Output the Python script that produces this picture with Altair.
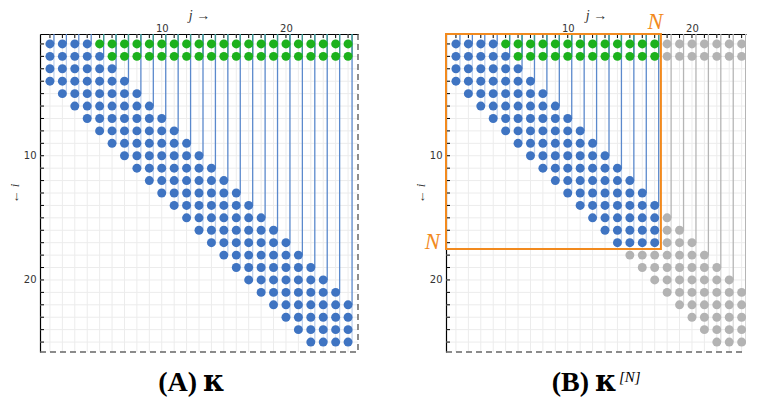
import altair as alt
import pandas as pd

# ---------------- data ----------------
SIZE = 25          # matrix is 25 x 25 (i = row, j = column)
N_CUT = 17         # truncation order N in panel (B)
ROWS = list(range(1, SIZE + 1))
COLS = list(range(1, SIZE + 1))
# first non-zero column of every row
ROW_FIRST = [1, 1, 1, 1, 2, 3, 4, 5, 6, 7, 8, 9, 10, 11, 12, 13, 14, 15, 16, 17, 18, 19, 20, 21, 22]
# last column of the banded (blue) part of every row
ROW_LAST_BLUE = [4, 5, 6, 7, 8, 9, 10, 11, 12, 13, 14, 15, 16, 17, 18, 19, 20, 21, 22, 23, 24, 25, 25, 25, 25]
# last non-zero column of every row (rows 1-2 are full: green part)
ROW_LAST = [25, 25, 6, 7, 8, 9, 10, 11, 12, 13, 14, 15, 16, 17, 18, 19, 20, 21, 22, 23, 24, 25, 25, 25, 25]
TICK_LABELS = [10, 20]
X_TITLE = "j →"
Y_TITLE = "← i"
CAPTION_TAGS = ["(A)", "(B)"]
KAPPA = "κ"
SUPERSCRIPT = "[N]"
N_LABEL = "N"

# ---------------- styling ----------------
TONES = ["blue", "green", "gray", "dark", "light", "teal", "gdark", "glight"]
TONE_COLORS = ["#3f74c2", "#1cb11c", "#b3b3b3", "#5b89cc", "#c3d4ee", "#3f9a8c", "#b5b5b5", "#dcdcdc"]
ORANGE = "#f28a1e"
GRID = "#ececec"
UNIT = 12.42
LO = 0.2
HI_A = 25.8
HI_B = 24.35
W_A = round((HI_A - LO) * UNIT)
W_B = round((HI_B - LO) * UNIT)
H = round((HI_A - LO) * UNIT)
SPACING = 55
CAP_Y = 357

# ---------------- tables ----------------
dot_rows = []
for i in ROWS:
    for j in range(ROW_FIRST[i - 1], ROW_LAST[i - 1] + 1):
        tone = "green" if j > ROW_LAST_BLUE[i - 1] else "blue"
        tone_b = "gray" if (i > N_CUT or j > N_CUT) else tone
        dot_rows.append({"i": i, "j": j, "tone": tone, "tone_b": tone_b})
dots = pd.DataFrame(dot_rows)


def column_segments(cut=None):
    top_rows, band_rows = [], []
    for j in COLS:
        band = [i for i in ROWS if ROW_FIRST[i - 1] <= j <= ROW_LAST_BLUE[i - 1]]
        green = [i for i in ROWS if ROW_LAST_BLUE[i - 1] < j <= ROW_LAST[i - 1]]
        first, last = min(band), max(band)
        if cut is not None and j > cut:
            top_rows.append({"j": j, "end": first, "tone": "gdark"})
            band_rows.append({"j": j, "start": first, "end": last, "tone": "glight"})
            continue
        if cut is not None:
            last = min(last, cut)
        top_rows.append({"j": j, "end": first, "tone": "dark"})
        band_rows.append({"j": j, "start": first, "end": last, "tone": "light"})
        if green:
            top_rows.append({"j": j, "end": max(green), "tone": "teal"})
    return pd.DataFrame(top_rows), pd.DataFrame(band_rows)


one = pd.DataFrame({"k": [0]})
color_scale = alt.Scale(domain=TONES, range=TONE_COLORS)


def build_panel(hi, width, tone_field, tag, cap_x, cut=None):
    xs = alt.Scale(domain=[LO, hi], nice=False, zero=False)
    ys = alt.Scale(domain=[LO, HI_A], nice=False, zero=False, reverse=True)
    ax_x = alt.Axis(
        orient="top", values=TICK_LABELS, ticks=False, grid=False, domainColor="black",
        domainWidth=1.2, labelFont="DejaVu Sans", labelFontSize=10, labelColor="#333",
        labelPadding=1, title=X_TITLE, titleFont="Liberation Serif", titleFontStyle="italic",
        titleFontWeight="normal", titleFontSize=14, titlePadding=1, titleColor="#333", zindex=0)
    ax_y = alt.Axis(
        orient="left", values=TICK_LABELS, ticks=False, grid=False, domainColor="black",
        domainWidth=1.2, labelFont="DejaVu Sans", labelFontSize=10, labelColor="#333",
        labelPadding=4, title=Y_TITLE, titleFont="Liberation Serif", titleFontStyle="italic",
        titleFontWeight="normal", titleFontSize=13, titlePadding=2, titleColor="#333", zindex=0)
    X = lambda f: alt.X(f, scale=xs, axis=ax_x)
    Y = lambda f: alt.Y(f, scale=ys, axis=ax_y)
    tops, bands = column_segments(cut)
    line_color = alt.Color("tone:N", scale=color_scale, legend=None)

    grid_x = alt.Chart(pd.DataFrame({"j": COLS})).mark_rule(color=GRID, strokeWidth=1, clip=True).encode(
        x=X("j:Q"), y=alt.value(0), y2=alt.value(H))
    grid_y = alt.Chart(pd.DataFrame({"i": ROWS})).mark_rule(color=GRID, strokeWidth=1).encode(
        y=Y("i:Q"), x=alt.value(0), x2=alt.value(width))

    band_lines = alt.Chart(bands).mark_rule(strokeWidth=1.3, clip=True).encode(
        x=X("j:Q"), xOffset=alt.value(4), y=Y("start:Q"), y2="end:Q", color=line_color)
    top_lines = alt.Chart(tops).mark_rule(strokeWidth=1.3, clip=True).encode(
        x=X("j:Q"), xOffset=alt.value(4), y=Y("end:Q"), y2=alt.value(0), color=line_color)

    pts = alt.Chart(dots).mark_circle(size=80, opacity=1, clip=True).encode(
        x=X("j:Q"), y=Y("i:Q"),
        color=alt.Color(f"{tone_field}:N", scale=color_scale, legend=None),
    )

    xticks = alt.Chart(pd.DataFrame({"j": COLS})).mark_rule(color="black", strokeWidth=1, clip=True).encode(
        x=X("j:Q"), y=alt.value(0), y2=alt.value(4))
    yticks = alt.Chart(pd.DataFrame({"i": ROWS})).mark_rule(color="black", strokeWidth=1).encode(
        y=Y("i:Q"), x=alt.value(0), x2=alt.value(4))

    bottom = alt.Chart(one).mark_rule(color="#666", strokeWidth=1.5, strokeDash=[6, 4]).encode(
        x=alt.value(0), x2=alt.value(width), y=alt.value(H))
    layers = [grid_x, grid_y, band_lines, top_lines, pts, xticks, yticks, bottom]
    if cut is None:
        right = alt.Chart(one).mark_rule(color="#444", strokeWidth=1.2, strokeDash=[6, 4]).encode(
            x=alt.value(width), y=alt.value(0), y2=alt.value(H))
        layers.append(right)

    cap = alt.Chart(pd.DataFrame({"t": [tag]})).mark_text(
        font="Liberation Serif", fontWeight="bold", fontSize=28, align="right",
        baseline="alphabetic", color="black").encode(
        x=alt.value(cap_x), y=alt.value(CAP_Y), text="t:N")
    kap = alt.Chart(pd.DataFrame({"t": [KAPPA]})).mark_text(
        font="DejaVu Serif", fontWeight="bold", fontSize=29, align="left",
        baseline="alphabetic", color="black").encode(
        x=alt.value(cap_x + 6), y=alt.value(CAP_Y), text="t:N")
    layers += [cap, kap]

    if cut is not None:
        nb = pd.DataFrame({"n": [cut], "label": [N_LABEL]})
        box = alt.Chart(nb).transform_calculate(edge="datum.n + 0.5").mark_rect(
            fill=None, fillOpacity=0, stroke=ORANGE, strokeWidth=2).encode(
            x=X("edge:Q"), x2=alt.value(0), y=Y("edge:Q"), y2=alt.value(0))
        n_top = alt.Chart(nb).transform_calculate(edge="datum.n + 0.5").mark_text(
            font="Liberation Serif", fontStyle="italic", fontSize=23, color=ORANGE,
            align="right", baseline="alphabetic", dx=2, dy=-5).encode(
            x=X("edge:Q"), y=alt.value(0), text="label:N")
        n_left = alt.Chart(nb).transform_calculate(edge="datum.n + 0.5").mark_text(
            font="Liberation Serif", fontStyle="italic", fontSize=23, color=ORANGE,
            align="right", baseline="alphabetic", dx=-6).encode(
            y=Y("edge:Q"), x=alt.value(0), text="label:N")
        sup = alt.Chart(pd.DataFrame({"t": [SUPERSCRIPT]})).mark_text(
            font="Liberation Serif", fontStyle="italic", fontSize=15, align="left",
            baseline="alphabetic", color="black").encode(
            x=alt.value(cap_x + 30), y=alt.value(CAP_Y - 9), text="t:N")
        layers += [box, n_top, n_left, sup]

    return alt.layer(*layers).properties(width=width, height=H)


panel_a = build_panel(HI_A, W_A, "tone", CAPTION_TAGS[0], 157)
panel_b = build_panel(HI_B, W_B, "tone_b", CAPTION_TAGS[1], 143, cut=N_CUT)

chart = alt.hconcat(panel_a, panel_b, spacing=SPACING).properties(
    padding=0, autosize=alt.AutoSizeParams(type="pad")
).configure(padding=0).configure_view(stroke=None)

chart.save("out.html", embed_options={"renderer": "svg", "actions": False})
